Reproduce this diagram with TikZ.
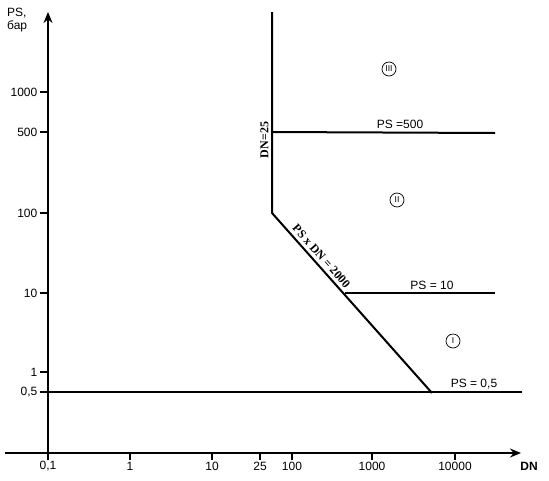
\documentclass[tikz,border=0pt]{standalone}
\usepackage{fontspec}
\setmainfont{Liberation Sans}
\newfontfamily\serifb{Liberation Serif}
\usetikzlibrary{arrows.meta}
\begin{document}
\begin{tikzpicture}[x=1pt,y=-1pt,
  axis/.style={line width=2.4pt,-{Stealth[length=11pt,width=9pt]}},
  bound/.style={line width=2pt},
  tick/.style={line width=2pt},
  lbl/.style={font=\fontsize{12}{14}\selectfont, inner sep=0pt},
  rlbl/.style={font=\serifb\bfseries\fontsize{12}{13}\selectfont, inner sep=0pt},
  zone/.style={draw, circle, line width=0.7pt, inner sep=0.6pt, minimum size=14pt, font=\fontsize{8.5}{9}\selectfont}]
\useasboundingbox (0,0) rectangle (549,480);
% axes
\coordinate (xs) at (5,453);
\coordinate (xe) at (521,453);
\coordinate (ys) at (48,460);
\coordinate (ye) at (48,12);
\draw[axis] (xs) -- (xe);
\draw[axis] (ys) -- (ye);
\node[lbl, font=\bfseries\fontsize{12}{14}\selectfont] (dn) at (529,466) {DN};
\node[lbl, align=left, anchor=north west, font=\fontsize{12}{13}\selectfont] (ps) at (7,8) {PS,\\бар};
% y ticks
\foreach \v/\y in {1000/92, 500/132, 100/213, 10/293, 1/372, {0,5}/392}{
  \draw[tick] (40,\y) -- (48,\y);
  \node[lbl, anchor=east] at (37.5,\y) {\v};
}
% x ticks
\foreach \v/\x in {{0,1}/48, 1/130, 10/212, 25/260, 100/292, 1000/372, 10000/455}{
  \draw[tick] (\x,453) -- (\x,460);
  \node[lbl] at (\x,466) {\v};
}
% boundaries
\coordinate (vtop) at (272,12);
\coordinate (v100) at (272,213);
\coordinate (v500) at (272,132);
\coordinate (e500) at (495,133);
\coordinate (d10) at (345,293);
\coordinate (e10) at (495,293);
\coordinate (dend) at (432,393);
\coordinate (h05s) at (48,392);
\coordinate (h05e) at (522,392);
\draw[bound, line join=miter] (vtop) -- (v100) -- (dend);
\draw[bound] (v500) -- (e500);
\draw[bound] (d10) -- (e10);
\draw[bound] (h05s) -- (h05e);
% labels
\node[lbl] (l500) at (400,124) {PS =500};
\node[lbl] (l10) at (432,285) {PS = 10};
\node[lbl] (l05) at (474,384) {PS = 0,5};
\node[rlbl, rotate=90] (l25) at (264.5,140) {DN=25};
\node[rlbl, rotate=-48.4] (l2000) at (321.5,256) {PS x DN = 2000};
% zones
\node[zone] (z3) at (389,69) {III};
\node[zone] (z2) at (397,200) {II};
\node[zone] (z1) at (453,341) {I};
\end{tikzpicture}
\end{document}
